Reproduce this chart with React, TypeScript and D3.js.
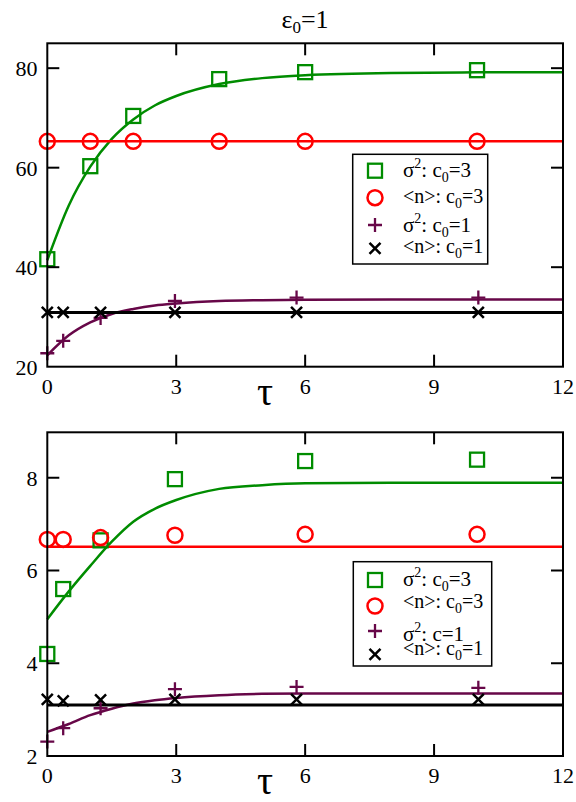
import React from "react";
import * as d3 from "d3";

// ---------- data ----------
const xTicks = [0, 3, 6, 9, 12];

// top panel
const topYTicks = [20, 40, 60, 80];
const topTauC3 = [0, 1, 2, 4, 6, 10];
const topTauC1 = [0, 0.37, 1.24, 2.97, 5.8, 10.03];
const topSigmaC3 = [41.6, 60.3, 70.4, 77.8, 79.2, 79.6];
const topMeanC3 = [65.3, 65.3, 65.3, 65.3, 65.3, 65.3];
const topSigmaC1 = [22.7, 25.2, 29.8, 33.2, 33.9, 33.9];
const topMeanC1 = [30.9, 30.9, 30.9, 30.9, 30.9, 30.9];
const topMeanC3Line = 65.3;
const topMeanC1Line = 30.9;
const fitTau = [0, 0.5, 1, 1.5, 2, 2.5, 3, 4, 5, 6, 8, 10, 12];
const topSigmaC3Fit = [41.4, 52.4, 60.2, 65.8, 69.7, 72.5, 74.4, 76.8, 78.0, 78.6, 79.05, 79.16, 79.2];
const topSigmaC1Fit = [22.3, 26.3, 28.9, 30.6, 31.6, 32.3, 32.7, 33.2, 33.37, 33.45, 33.49, 33.5, 33.5];

// bottom panel
const botYTicks = [2, 4, 6, 8];
const botTauC3 = [0, 0.37, 1.24, 2.97, 6, 10];
const botTauC1 = [0, 0.37, 1.24, 2.97, 5.8, 10.03];
const botSigmaC3 = [4.2, 5.6, 6.65, 7.97, 8.36, 8.39];
const botMeanC3 = [6.67, 6.67, 6.71, 6.76, 6.78, 6.78];
const botSigmaC1 = [2.31, 2.6, 3.03, 3.44, 3.49, 3.47];
const botMeanC1 = [3.22, 3.19, 3.21, 3.22, 3.22, 3.22];
const botMeanC3Line = 6.51;
const botMeanC1Line = 3.1;
const botSigmaC3Fit = [4.95, 5.55, 6.1, 6.62, 7.05, 7.33, 7.52, 7.76, 7.84, 7.88, 7.89, 7.89, 7.89];
const botSigmaC1Fit = [2.52, 2.69, 2.88, 3.02, 3.13, 3.2, 3.25, 3.31, 3.34, 3.35, 3.35, 3.35, 3.35];

const GREEN = "#008c00";
const RED = "#ff0000";
const MAROON = "#670748";
const FONT = "Liberation Serif";

type PanelProps = {
  top: number;
  bottom: number;
  yDomain: [number, number];
  yTicks: number[];
  tauC3: number[];
  tauC1: number[];
  sigmaC3: number[];
  meanC3: number[];
  sigmaC1: number[];
  meanC1: number[];
  meanC3Line: number;
  meanC1Line: number;
  sigmaC3Fit: number[];
  sigmaC1Fit: number[];
  legend: { x0: number; y0: number; x1: number; y1: number; sym: number[]; txt: number[] };
  thirdLabelNoSub?: boolean;
};

const LEFT = 47.3;
const RIGHT = 563;

function Square({ x, y }: { x: number; y: number }) {
  return <rect x={x - 7} y={y - 7} width={14} height={14} fill="none" stroke={GREEN} strokeWidth={2.3} />;
}
function Circle({ x, y }: { x: number; y: number }) {
  return <circle cx={x} cy={y} r={7.5} fill="none" stroke={RED} strokeWidth={2.5} />;
}
function Plus({ x, y }: { x: number; y: number }) {
  return (
    <path d={`M${x - 7},${y}H${x + 7}M${x},${y - 7}V${y + 7}`} stroke={MAROON} strokeWidth={2.3} fill="none" />
  );
}
function Cross({ x, y }: { x: number; y: number }) {
  return (
    <path
      d={`M${x - 5.5},${y - 5.5}L${x + 5.5},${y + 5.5}M${x - 5.5},${y + 5.5}L${x + 5.5},${y - 5.5}`}
      stroke="#000"
      strokeWidth={2.5}
      fill="none"
    />
  );
}

function Panel(p: PanelProps) {
  const x = d3.scaleLinear().domain([0, 12]).range([LEFT, RIGHT]);
  const y = d3.scaleLinear().domain(p.yDomain).range([p.bottom, p.top]);
  const line = d3
    .line<[number, number]>()
    .x((d) => x(d[0]))
    .y((d) => y(d[1]))
    .curve(d3.curveMonotoneX);
  const fit3 = line(fitTau.map((t, i) => [t, p.sigmaC3Fit[i]] as [number, number])) || "";
  const fit1 = line(fitTau.map((t, i) => [t, p.sigmaC1Fit[i]] as [number, number])) || "";
  const tickLen = 12;
  const innerX = xTicks.filter((t) => t > 0 && t < 12);
  const innerY = p.yTicks.filter((t) => t > p.yDomain[0] && t < p.yDomain[1]);
  const L = p.legend;
  const symX = 375;
  const txtX = 403;
  const sub = (s: string) => (
    <>
      <tspan dy={5} fontSize={14}>{s}</tspan>
      <tspan dy={-5}>=</tspan>
    </>
  );
  return (
    <g>
      {/* fit curves and lines */}
      <path d={fit3} fill="none" stroke={GREEN} strokeWidth={2.5} />
      <line x1={x(0)} x2={x(12)} y1={y(p.meanC3Line)} y2={y(p.meanC3Line)} stroke={RED} strokeWidth={2.5} />
      <path d={fit1} fill="none" stroke={MAROON} strokeWidth={2.5} />
      <line x1={x(0)} x2={x(12)} y1={y(p.meanC1Line)} y2={y(p.meanC1Line)} stroke="#000" strokeWidth={3} />

      {/* markers */}
      {p.tauC3.map((t, i) => (
        <Square key={"s" + i} x={x(t)} y={y(p.sigmaC3[i])} />
      ))}
      {p.tauC3.map((t, i) => (
        <Circle key={"c" + i} x={x(t)} y={y(p.meanC3[i])} />
      ))}
      {p.tauC1.map((t, i) => (
        <Plus key={"p" + i} x={x(t)} y={y(p.sigmaC1[i])} />
      ))}
      {p.tauC1.map((t, i) => (
        <Cross key={"x" + i} x={x(t)} y={y(p.meanC1[i])} />
      ))}

      {/* frame */}
      <rect x={LEFT} y={p.top} width={RIGHT - LEFT} height={p.bottom - p.top} fill="none" stroke="#000" strokeWidth={2} />
      {innerX.map((t) => (
        <g key={"xt" + t}>
          <line x1={x(t)} x2={x(t)} y1={p.bottom} y2={p.bottom - tickLen} stroke="#000" strokeWidth={2} />
          <line x1={x(t)} x2={x(t)} y1={p.top} y2={p.top + tickLen} stroke="#000" strokeWidth={2} />
        </g>
      ))}
      {innerY.map((t) => (
        <g key={"yt" + t}>
          <line x1={LEFT} x2={LEFT + tickLen} y1={y(t)} y2={y(t)} stroke="#000" strokeWidth={2} />
          <line x1={RIGHT} x2={RIGHT - tickLen} y1={y(t)} y2={y(t)} stroke="#000" strokeWidth={2} />
        </g>
      ))}
      {xTicks.map((t) => (
        <text key={"xl" + t} x={x(t)} y={p.bottom + 27} textAnchor="middle" fontFamily={FONT} fontSize={22}>
          {t}
        </text>
      ))}
      {p.yTicks.map((t) => (
        <text key={"yl" + t} x={37.5} y={y(t) + 8} textAnchor="end" fontFamily={FONT} fontSize={22}>
          {t}
        </text>
      ))}
      <text x={265} y={p.bottom + 38} textAnchor="middle" fontFamily={FONT} fontSize={40}>
        τ
      </text>

      {/* legend */}
      <rect x={L.x0} y={L.y0} width={L.x1 - L.x0} height={L.y1 - L.y0} fill="#fff" stroke="#000" strokeWidth={1.5} />
      <Square x={symX} y={L.sym[0]} />
      <Circle x={symX} y={L.sym[1]} />
      <Plus x={symX} y={L.sym[2]} />
      <Cross x={symX} y={L.sym[3]} />
      <text x={txtX} y={L.txt[0]} fontFamily={FONT} fontSize={21}>
        σ<tspan dy={-9} fontSize={14}>2</tspan>
        <tspan dy={9}>: c</tspan>
        {sub("0")}3
      </text>
      <text x={txtX} y={L.txt[1]} fontFamily={FONT} fontSize={20}>
        &lt;n&gt;: c{sub("0")}3
      </text>
      {p.thirdLabelNoSub ? (
        <text x={txtX} y={L.txt[2]} fontFamily={FONT} fontSize={21}>
          σ<tspan dy={-9} fontSize={14}>2</tspan>
          <tspan dy={9}>: c=1</tspan>
        </text>
      ) : (
        <text x={txtX} y={L.txt[2]} fontFamily={FONT} fontSize={21}>
          σ<tspan dy={-9} fontSize={14}>2</tspan>
          <tspan dy={9}>: c</tspan>
          {sub("0")}1
        </text>
      )}
      <text x={txtX} y={L.txt[3]} fontFamily={FONT} fontSize={20}>
        &lt;n&gt;: c{sub("0")}1
      </text>
    </g>
  );
}

export default function App() {
  return (
    <svg
      width={576}
      height={802}
      viewBox="0 0 576 802"
      style={{ position: "absolute", left: 0, top: 0, background: "#fff" }}
    >
      <rect x={0} y={0} width={576} height={802} fill="#fff" />
      <text x={305} y={28} textAnchor="middle" fontFamily={FONT} fontSize={26}>
        ε<tspan dy={5} fontSize={17}>0</tspan>
        <tspan dy={-5}>=1</tspan>
      </text>
      <Panel
        top={43.3}
        bottom={366.7}
        yDomain={[20, 85]}
        yTicks={topYTicks}
        tauC3={topTauC3}
        tauC1={topTauC1}
        sigmaC3={topSigmaC3}
        meanC3={topMeanC3}
        sigmaC1={topSigmaC1}
        meanC1={topMeanC1}
        meanC3Line={topMeanC3Line}
        meanC1Line={topMeanC1Line}
        sigmaC3Fit={topSigmaC3Fit}
        sigmaC1Fit={topSigmaC1Fit}
        legend={{ x0: 352.7, y0: 154.3, x1: 487.7, y1: 264, sym: [170.7, 197.7, 225, 248.3], txt: [177.3, 202.7, 231.7, 253.3] }}
      />
      <Panel
        top={432.3}
        bottom={756}
        yDomain={[2, 8.98]}
        yTicks={botYTicks}
        tauC3={botTauC3}
        tauC1={botTauC1}
        sigmaC3={botSigmaC3}
        meanC3={botMeanC3}
        sigmaC1={botSigmaC1}
        meanC1={botMeanC1}
        meanC3Line={botMeanC3Line}
        meanC1Line={botMeanC1Line}
        sigmaC3Fit={botSigmaC3Fit}
        sigmaC1Fit={botSigmaC1Fit}
        legend={{ x0: 353.3, y0: 561.7, x1: 491.7, y1: 666, sym: [580, 606, 631, 654.3], txt: [585.7, 608, 641, 655] }}
        thirdLabelNoSub
      />
    </svg>
  );
}
